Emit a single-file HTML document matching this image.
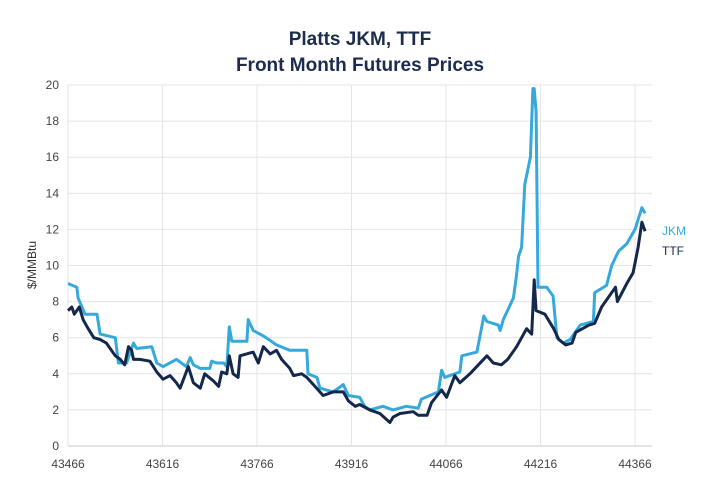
<!DOCTYPE html>
<html><head><meta charset="utf-8"><style>
body{margin:0;background:#fff;}
svg{display:block;font-family:"Liberation Sans",sans-serif;}
</style></head><body>
<svg id="chart" width="720" height="500">
<text x="360" y="45" text-anchor="middle" font-size="19" font-weight="bold" fill="#1b2c4c">Platts JKM, TTF</text>
<text x="360" y="71" text-anchor="middle" font-size="19" font-weight="bold" fill="#1b2c4c">Front Month Futures Prices</text>
<text transform="translate(36,265) rotate(-90)" text-anchor="middle" font-size="12" fill="#333">$/MMBtu</text>
<g id="grid"></g><g id="series"></g>
<text x="662" y="235" font-size="12" fill="#35a9dc">JKM</text>
<text x="662" y="255" font-size="12" fill="#14284b">TTF</text>
</svg>
<script>
const xTicks=[43466,43616,43766,43916,44066,44216,44366];
const yTicks=[0,2,4,6,8,10,12,14,16,18,20];
const jkmDays=[0,14,16,27,46,51,75,80,93,104,109,133,141,151,172,188,194,199,210,225,228,236,247,252,256,260,284,286,294,310,331,352,379,381,395,400,421,437,445,463,471,479,500,516,537,556,561,588,593,598,622,625,649,660,665,683,686,691,707,712,715,720,725,734,738,740,743,746,760,770,776,786,797,813,834,836,855,863,874,887,900,911,916];
const jkmVals=[9.0,8.8,8.2,7.3,7.3,6.2,6.0,4.6,4.6,5.7,5.4,5.5,4.6,4.4,4.8,4.4,4.9,4.5,4.3,4.3,4.7,4.6,4.6,4.4,6.6,5.8,5.8,7.0,6.4,6.1,5.6,5.3,5.3,4.0,3.8,3.2,3.0,3.4,2.8,2.7,2.2,2.0,2.2,2.0,2.2,2.1,2.6,3.0,4.2,3.8,4.1,5.0,5.2,7.2,6.9,6.7,6.4,7.0,8.2,9.5,10.5,11.0,14.5,16.0,19.8,19.8,18.5,8.8,8.8,8.3,6.0,5.7,5.9,6.7,6.9,8.5,8.9,10.0,10.8,11.2,12.0,13.2,12.9];
const ttfDays=[0,6,10,18,24,32,41,51,61,75,83,90,96,101,104,114,130,141,151,162,172,178,191,199,210,217,231,239,244,252,256,262,270,273,294,302,310,321,331,339,352,358,371,379,392,405,421,437,445,456,463,479,495,511,516,527,548,556,570,577,593,601,614,622,638,665,675,688,698,712,728,736,740,743,757,771,779,790,800,806,827,836,847,869,872,887,897,905,911,916];
const ttfVals=[7.5,7.7,7.3,7.7,7.0,6.5,6.0,5.9,5.7,5.0,4.8,4.5,5.5,5.3,4.8,4.8,4.7,4.1,3.7,3.9,3.5,3.2,4.4,3.5,3.2,4.0,3.6,3.3,4.1,4.0,5.0,4.0,3.8,5.0,5.2,4.6,5.5,5.1,5.3,4.8,4.3,3.9,4.0,3.8,3.3,2.8,3.0,3.0,2.5,2.2,2.3,2.0,1.8,1.3,1.6,1.8,1.9,1.7,1.7,2.4,3.1,2.7,3.9,3.5,4.0,5.0,4.6,4.5,4.8,5.5,6.5,6.2,9.2,7.5,7.3,6.5,5.9,5.6,5.7,6.3,6.7,6.8,7.7,8.8,8.0,9.0,9.6,11.0,12.4,11.9];
const X0=68,X1=652,Y0=446,Y1=85,D0=43466,PPD=0.63;
const xs=d=>X0+(d-D0)*PPD;
const ys=v=>Y0-(v/20)*(Y0-Y1);
const NS='http://www.w3.org/2000/svg';
const g=document.getElementById('grid'),s=document.getElementById('series');
function mk(tag,attrs,parent){const e=document.createElementNS(NS,tag);for(const k in attrs)e.setAttribute(k,attrs[k]);parent.appendChild(e);return e;}
yTicks.forEach(v=>{
 const l=mk('line',{x1:X0,x2:X1,y1:ys(v),y2:ys(v),stroke:v===0?'#c8c8c8':'#e4e4e4','stroke-width':1},g);
 
 
 const t=mk('text',{x:X0-9,y:ys(v)+4,'text-anchor':'end','font-size':12,fill:'#444'},g);t.textContent=v;
 
 
});
xTicks.forEach(d=>{
 const l=mk('line',{x1:xs(d),x2:xs(d),y1:Y1,y2:Y0,stroke:'#e4e4e4','stroke-width':1},g);
 
 
 const t=mk('text',{x:xs(d),y:Y0+22,'text-anchor':'middle','font-size':12,fill:'#444'},g);t.textContent=d;
 
 
});
function line(days,vals,color,name){
 const p=days.map((d,i)=>xs(D0+d).toFixed(1)+','+ys(vals[i]).toFixed(1)).join(' ');
 const e=mk('polyline',{points:p,fill:'none',stroke:color,'stroke-width':3,'stroke-linejoin':'round'},s);
 
 
}
line(jkmDays,jkmVals,'#35a9dc','jkm-line');
line(ttfDays,ttfVals,'#14284b','ttf-line');
</script>
</body></html>
